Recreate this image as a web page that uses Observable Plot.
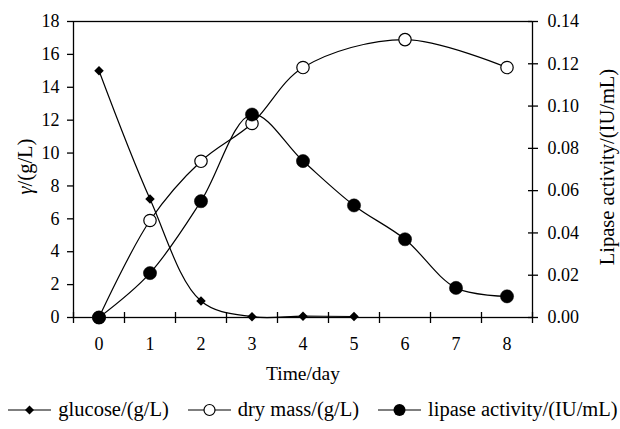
<!DOCTYPE html>
<html>
<head>
<meta charset="utf-8">
<script src="https://cdn.jsdelivr.net/npm/d3@7"></script>
<script src="https://cdn.jsdelivr.net/npm/@observablehq/plot@0.6"></script>
<style>
  body { margin: 0; background: #fff; }
  #chart { width: 620px; }
  .legend { display: flex; justify-content: center; align-items: center; gap: 19px; font-family: "Liberation Serif", serif; font-size: 20.5px; color: #000; margin-top: 6px; padding-left: 6px; }
  .legend .item { display: flex; align-items: center; gap: 7px; white-space: nowrap; }
  .legend svg { display: block; }
</style>
</head>
<body>
<div id="chart"></div>
<script>
const days = [0, 1, 2, 3, 4, 5, 6, 7, 8];
const glucoseDays = [0, 1, 2, 3, 4, 5];
const glucose = [15.0, 7.2, 1.0, 0.05, 0.08, 0.06];
const dryDays = [0, 1, 2, 3, 4, 6, 8];
const dryMass = [0, 5.9, 9.5, 11.8, 15.2, 16.9, 15.2];
const lipase = [0, 0.021, 0.055, 0.096, 0.074, 0.053, 0.037, 0.014, 0.010];
const leftTicks = [0, 2, 4, 6, 8, 10, 12, 14, 16, 18];
const rightTicks = [0, 0.02, 0.04, 0.06, 0.08, 0.10, 0.12, 0.14];
const xBounds = [-0.5, 0.5, 1.5, 2.5, 3.5, 4.5, 5.5, 6.5, 7.5, 8.5];

const k = 18 / 0.14;
const gData = glucoseDays.map((d, i) => ({day: d, v: glucose[i]}));
const dData = dryDays.map((d, i) => ({day: d, v: dryMass[i]}));
const lData = days.map((d, i) => ({day: d, v: lipase[i] * k}));

const W = 620, H = 392, mT = 21, mB = 75, mL = 73, mR = 88;
const pxY = (18) / (H - mT - mB);
const pxX = 9 / (W - mL - mR);

const chart = Plot.plot({
  width: W, height: H,
  marginTop: mT, marginBottom: mB, marginLeft: mL, marginRight: mR,
  style: {fontFamily: "Liberation Serif", fontSize: "18px", color: "#000", background: "#fff", overflow: "visible"},
  x: {domain: [-0.5, 8.5]},
  y: {domain: [0, 18]},
  marks: [
    Plot.frame({stroke: "#000", strokeWidth: 1.3}),
    Plot.axisY({ticks: leftTicks, anchor: "left", tickSize: 6, tickPadding: 8, label: null, fontSize: 18, strokeWidth: 1.3}),
    Plot.axisY({ticks: rightTicks.map(v => v * k), anchor: "right", tickSize: 5, tickPadding: 10, label: null, fontSize: 18, strokeWidth: 1.3,
      tickFormat: d => d3.format(".2f")(d / k)}),
    Plot.ruleY(rightTicks.map(v => v * k), {x1: 8.5, x2: 8.5 - 4 * pxX, stroke: "#000", strokeWidth: 1.3}),
    Plot.axisX({ticks: xBounds, anchor: "bottom", tickSize: 6, tickFormat: () => "", label: null, strokeWidth: 1.3}),
    Plot.ruleX(xBounds, {y1: 0, y2: 5 * pxY, stroke: "#000", strokeWidth: 1.3}),
    Plot.axisX({ticks: days, anchor: "bottom", tickSize: 0, tickPadding: 20, label: null, fontSize: 18}),
    Plot.text(["Time/day"], {frameAnchor: "bottom", dy: 62, fontSize: 19.5}),
    Plot.text(["γ/(g/L)"], {frameAnchor: "left", textAnchor: "middle", dx: -48, dy: -3, rotate: -90, fontSize: 20.5}),
    Plot.text(["Lipase activity/(IU/mL)"], {frameAnchor: "right", textAnchor: "middle", dx: 75, dy: -2.5, rotate: -90, fontSize: 20.5}),
    Plot.line(gData, {x: "day", y: "v", curve: "catmull-rom", stroke: "#000", strokeWidth: 1.2}),
    Plot.line(dData, {x: "day", y: "v", curve: "catmull-rom", stroke: "#000", strokeWidth: 1.2}),
    Plot.line(lData, {x: "day", y: "v", curve: "catmull-rom", stroke: "#000", strokeWidth: 1.2}),
    Plot.dot(gData, {x: "day", y: "v", symbol: "diamond2", r: 4.3, fill: "#000", stroke: "none"}),
    Plot.dot(dData, {x: "day", y: "v", symbol: "circle", r: 6.2, fill: "#fff", stroke: "#000", strokeWidth: 1.2}),
    Plot.dot(lData, {x: "day", y: "v", symbol: "circle", r: 6.6, fill: "#000", stroke: "#000", strokeWidth: 0.5})
  ]
});

// italic gamma in the left axis title
d3.select(chart).selectAll("text").each(function () {
  if (this.textContent === "γ/(g/L)") {
    const t = d3.select(this);
    t.text("");
    t.append("tspan").attr("font-style", "italic").text("γ");
    t.append("tspan").text("/(g/L)");
  }
});

document.getElementById("chart").appendChild(chart);

// legend
const legendItems = [
  {label: "glucose/(g/L)", symbol: "diamond"},
  {label: "dry mass/(g/L)", symbol: "open"},
  {label: "lipase activity/(IU/mL)", symbol: "filled"}
];
const legend = d3.select("#chart").append("div").attr("class", "legend");
legendItems.forEach(it => {
  const item = legend.append("div").attr("class", "item");
  const s = item.append("svg").attr("width", 43).attr("height", 16);
  s.append("line").attr("x1", 0).attr("x2", 43).attr("y1", 8).attr("y2", 8).attr("stroke", "#000").attr("stroke-width", 1.2);
  if (it.symbol === "diamond") {
    s.append("path").attr("d", "M21.5,3.5L26,8L21.5,12.5L17,8Z").attr("fill", "#000");
  } else if (it.symbol === "open") {
    s.append("circle").attr("cx", 21.5).attr("cy", 8).attr("r", 5.5).attr("fill", "#fff").attr("stroke", "#000").attr("stroke-width", 1.2);
  } else {
    s.append("circle").attr("cx", 21.5).attr("cy", 8).attr("r", 6).attr("fill", "#000");
  }
  item.append("span").text(it.label);
});
</script>
</body>
</html>
